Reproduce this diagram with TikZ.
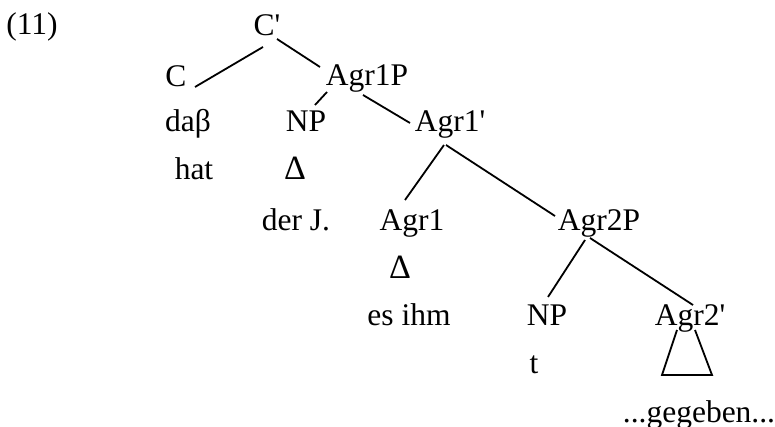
\documentclass[tikz,border=0pt]{standalone}
\usepackage{fontspec}
\setmainfont{Liberation Serif}
\usepackage{tikz}

\begin{document}
\begin{tikzpicture}[x=0.5pt,y=-0.5pt,font=\fontsize{15.75}{18}\selectfont,line width=0.9pt,
    every node/.style={anchor=base,inner sep=0pt},
    tri/.style={font=\fontsize{17}{19}\selectfont}]
    \useasboundingbox (0,0) rectangle (775,427);
    \node (ex) at (32,35) {(11)};
    \node (Cb) at (267,36) {C\textquotesingle};
    \node (C) at (176,87) {C};
    \node (A1P) at (367,86) {Agr1P};
    \node (das) at (188,132) {daβ};
    \node (NP1) at (306,132) {NP};
    \node (A1b) at (450,132) {Agr1\textquotesingle};
    \node (hat) at (194,180) {hat};
    \node[tri] (D1) at (295,180) {Δ};
    \node (derJ) at (296,230) {der J.};
    \node (A1) at (412,230) {Agr1};
    \node (A2P) at (599,230) {Agr2P};
    \node[tri] (D2) at (400,278) {Δ};
    \node (esihm) at (409,325) {es ihm};
    \node (NP2) at (547,325) {NP};
    \node (A2b) at (690,325) {Agr2\textquotesingle};
    \node (t) at (534,373) {t};
    \node (geg) at (699,422) {...gegeben...};
    % branches
    \draw ([shift={(-4,11)}]Cb.base) -- ([shift={(19,0)}]C.base);
    \draw ([shift={(10,3)}]Cb.base) -- ([shift={(-47,-19)}]A1P.base);
    \draw ([shift={(-40,6)}]A1P.base) -- ([shift={(9,-27)}]NP1.base);
    \draw ([shift={(-4,9)}]A1P.base) -- ([shift={(-40,-9)}]A1b.base);
    \draw ([shift={(-6,13)}]A1b.base) -- ([shift={(-7,-30)}]A1.base);
    \draw ([shift={(-4,13)}]A1b.base) -- ([shift={(-44,-14)}]A2P.base);
    \draw ([shift={(-14,10)}]A2P.base) -- ([shift={(1,-28)}]NP2.base);
    \draw ([shift={(-9,8)}]A2P.base) -- ([shift={(3,-20)}]A2b.base);
    \draw ([shift={(-13,5)}]A2b.base) -- ++(-15,45) -- ++(50,0) -- ++(-17,-45);
\end{tikzpicture}
\end{document}
